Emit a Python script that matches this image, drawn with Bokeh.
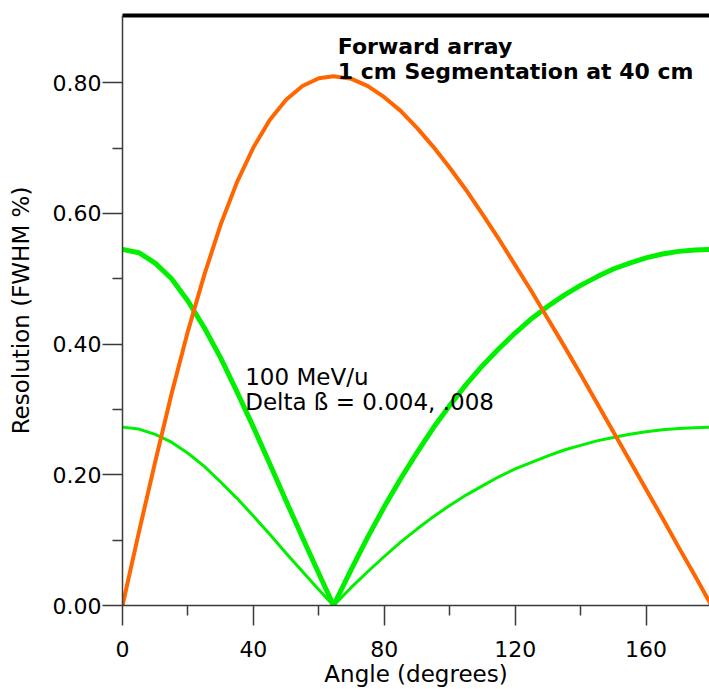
from bokeh.plotting import figure
from bokeh.models import Range1d, FixedTicker, NumeralTickFormatter, LinearAxis, Label
from bokeh.embed import file_html
from bokeh.resources import INLINE

# Angle in degrees
angle = [0, 5, 10, 15, 20, 25, 30, 35, 40, 45, 50, 55, 60, 64.5,
         70, 75, 80, 85, 90, 95, 100, 105, 110, 115, 120, 125, 130, 135,
         140, 145, 150, 155, 160, 165, 170, 175, 180]

# Resolution (FWHM %) from the 1 cm segmentation at 40 cm (orange)
res_segmentation = [0.000, 0.112, 0.220, 0.324, 0.420, 0.506, 0.583, 0.648, 0.701,
                    0.743, 0.774, 0.795, 0.807, 0.810,
                    0.806, 0.795, 0.778, 0.757, 0.731, 0.702, 0.670, 0.636, 0.599,
                    0.561, 0.521, 0.481, 0.439, 0.397, 0.354, 0.310, 0.266, 0.222,
                    0.178, 0.134, 0.089, 0.045, 0.000]

# Resolution from Delta beta = .008 (thick green)
res_dbeta_008 = [0.545, 0.540, 0.524, 0.500, 0.466, 0.425, 0.379, 0.327, 0.273,
                 0.217, 0.160, 0.104, 0.049, 0.000,
                 0.056, 0.105, 0.151, 0.194, 0.234, 0.272, 0.306, 0.338, 0.367,
                 0.393, 0.417, 0.439, 0.458, 0.475, 0.490, 0.503, 0.515, 0.524,
                 0.532, 0.538, 0.542, 0.544, 0.545]

# Resolution from Delta beta = 0.004 (thin green)
res_dbeta_004 = [0.273, 0.270, 0.262, 0.250, 0.233, 0.213, 0.189, 0.164, 0.137,
                 0.109, 0.080, 0.052, 0.024, 0.000,
                 0.028, 0.052, 0.075, 0.097, 0.117, 0.136, 0.153, 0.169, 0.183,
                 0.197, 0.209, 0.219, 0.229, 0.238, 0.245, 0.252, 0.257, 0.262,
                 0.266, 0.269, 0.271, 0.272, 0.273]

x_major_ticks = [0, 40, 80, 120, 160]
x_minor_ticks = [20, 60, 100, 140]
y_major_ticks = [0.0, 0.2, 0.4, 0.6, 0.8]
y_minor_ticks = [0.1, 0.3, 0.5, 0.7]

FONT = "DejaVu Sans"

p = figure(width=709, height=689, output_backend="svg", toolbar_location=None,
           x_range=Range1d(0, 179.4), y_range=Range1d(0, 0.903),
           min_border_left=122, min_border_right=0, min_border_top=15,
           min_border_bottom=84,
           x_axis_label="Angle (degrees)", y_axis_label="Resolution (FWHM %)")
p.outline_line_color = None
p.grid.visible = False
p.background_fill_color = "white"
p.border_fill_color = "white"

p.xaxis.ticker = FixedTicker(ticks=x_major_ticks, minor_ticks=x_minor_ticks)
p.yaxis.ticker = FixedTicker(ticks=y_major_ticks, minor_ticks=y_minor_ticks)
p.yaxis.formatter = NumeralTickFormatter(format="0.00")

for ax in (p.xaxis, p.yaxis):
    ax.axis_line_color = "#3a3a3a"
    ax.axis_line_width = 1.5
    ax.major_tick_line_color = "#3a3a3a"
    ax.minor_tick_line_color = "#3a3a3a"
    ax.major_tick_line_width = 1.5
    ax.minor_tick_line_width = 1.5
    ax.major_tick_out = 20
    ax.major_tick_in = 0
    ax.minor_tick_out = 10
    ax.minor_tick_in = 0
    ax.major_label_text_font = FONT
    ax.major_label_text_font_size = "22px"
    ax.major_label_text_color = "black"
    ax.axis_label_text_font = FONT
    ax.axis_label_text_font_size = "23px"
    ax.axis_label_text_font_style = "normal"
    ax.axis_label_text_color = "black"

p.xaxis.major_label_standoff = 15
p.xaxis.axis_label_standoff = 1
p.yaxis.major_label_standoff = 1
p.yaxis.axis_label_standoff = 16

top = LinearAxis(ticker=FixedTicker(ticks=[]), axis_line_width=4,
                 axis_line_color="black", major_label_text_font_size="0px",
                 major_tick_line_color=None, minor_tick_line_color=None)
p.add_layout(top, "above")

p.line(angle, res_dbeta_004, line_color="#00f000", line_width=3, line_join="round")
p.line(angle, res_dbeta_008, line_color="#00f000", line_width=5, line_join="round")
p.line(angle, res_segmentation, line_color="#ff6600", line_width=4, line_join="round")

for txt, yy in (("Forward array", 0.8557), ("1 cm Segmentation at 40 cm", 0.817)):
    p.add_layout(Label(x=65.8, y=yy, text=txt, text_font=FONT, text_font_style="bold",
                       text_font_size="22px", text_color="black",
                       text_baseline="alphabetic"))
for txt, yy in (("100 MeV/u", 0.349), ("Delta ß = 0.004, .008", 0.3116)):
    p.add_layout(Label(x=37.5, y=yy, text=txt, text_font=FONT,
                       text_font_size="23px", text_color="black",
                       text_baseline="alphabetic"))

open("out.html", "w").write(file_html(p, INLINE))
